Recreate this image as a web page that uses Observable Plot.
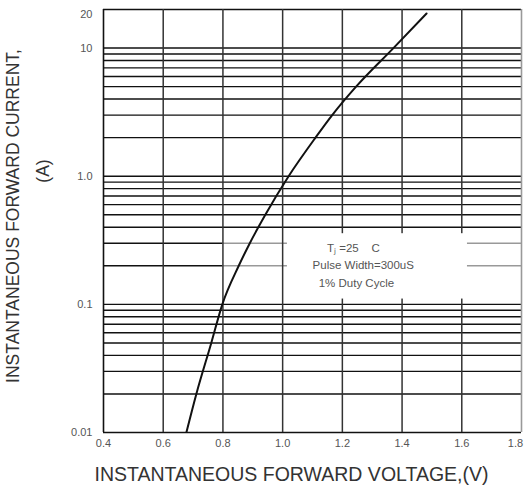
<!DOCTYPE html>
<html>
<head>
<meta charset="utf-8">
<script src="https://cdn.jsdelivr.net/npm/d3@7"></script>
<script src="https://cdn.jsdelivr.net/npm/@observablehq/plot@0.6"></script>
<style>
  html, body { margin: 0; padding: 0; background: #fff; }
  #chart svg { display: block; }
</style>
</head>
<body>
<div id="chart"></div>
<script>
// Forward voltage (V) and forward current (A)
const voltage = [0.678, 0.711, 0.761, 0.798, 0.853, 0.890, 0.942, 1.020, 1.110, 1.166, 1.246, 1.371, 1.482];
const current = [0.0101, 0.020, 0.050, 0.100, 0.200, 0.300, 0.500, 1.000, 2.000, 3.000, 5.000, 10.00, 18.60];

const xTicks = [0.4, 0.6, 0.8, 1.0, 1.2, 1.4, 1.6];
const xTickLabels = ["0.4", "0.6", "0.8", "1.0", "1.2", "1.4", "1.6"];
const xLastTick = [1.8];
const xLastLabel = ["1.8"];
const yTicks = [0.01, 0.1, 1, 10];
const yTickLabels = ["0.01", "0.1", "1.0", "10"];
const yTopTick = [20];
const yTopLabel = ["20"];
const xGrid = [0.6, 0.8, 1.0, 1.2, 1.4, 1.6];
const yGridFull = [0.01,0.02,0.03,0.04,0.05,0.06,0.07,0.08,0.09,
                   0.1,0.4,0.5,0.6,0.7,0.8,0.9,
                   1,2,3,4,5,6,7,8,9,10,20];
const yGridPartial = [0.2, 0.3];
const noteLines = ["Tⱼ =25    C", "Pulse Width=300uS", "1% Duty Cycle"];
const noteX = [1.237, 1.27, 1.247];
const noteY = [0.276, 0.2, 0.145];
const noteBox = [{x1: 1.016, x2: 1.619, y1: 0.11, y2: 0.356}];

const curve = voltage.map((v, i) => ({v, i: current[i]}));
const notes = noteLines.map((t, k) => ({t, x: noteX[k], y: noteY[k]}));
const yLabelRows = yTicks.map((d, k) => ({y: d, t: yTickLabels[k]}));
const yTopRows = yTopTick.map((d, k) => ({y: d, t: yTopLabel[k]}));
const xLabelRows = xTicks.map((d, k) => ({x: d, t: xTickLabels[k]}));
const xLastRows = xLastTick.map((d, k) => ({x: d, t: xLastLabel[k]}));

const font = "Liberation Sans, Arial, Helvetica, sans-serif";

const chart = Plot.plot({
  width: 524,
  height: 492,
  marginTop: 9,
  marginBottom: 60,
  marginLeft: 103,
  marginRight: 3,
  style: {fontFamily: font, background: "#fff"},
  x: {domain: [0.4, 1.8], axis: null},
  y: {type: "log", domain: [0.01, 20], axis: null},
  marks: [
    // horizontal grid
    Plot.ruleY(yGridFull, {stroke: "#111", strokeWidth: 1.4}),
    Plot.ruleY(yGridPartial, {x1: 0.4, x2: 0.8, stroke: "#111", strokeWidth: 1.4}),
    Plot.ruleY(yGridPartial, {x1: 0.8, x2: 1.8, stroke: "#999", strokeWidth: 1.4}),
    // vertical grid
    Plot.ruleX(xGrid, {stroke: "#333", strokeWidth: 1.5}),
    // frame sides
    Plot.ruleX([0.4], {stroke: "#111", strokeWidth: 1.6}),
    Plot.ruleX([1.8], {stroke: "#999", strokeWidth: 1.6}),
    // annotation box (white background)
    Plot.rect(noteBox, {x1: "x1", x2: "x2", y1: "y1", y2: "y2", fill: "#fff"}),
    Plot.text(notes, {x: "x", y: "y", text: "t", fontSize: 11.5, fill: "#555", textAnchor: "middle"}),
    // curve
    Plot.line(curve, {x: "v", y: "i", curve: "monotone-x", stroke: "#111", strokeWidth: 2}),
    // tick labels
    Plot.text(xLabelRows, {x: "x", text: "t", frameAnchor: "bottom", dy: 14, fontSize: 11, fill: "#555"}),
    Plot.text(xLastRows, {x: "x", text: "t", frameAnchor: "bottom", dy: 14, dx: -6, fontSize: 11, fill: "#555"}),
    Plot.text(yLabelRows, {y: "y", text: "t", frameAnchor: "left", dx: -11, textAnchor: "end",
      fontSize: 11, fill: "#555"}),
    Plot.text(yTopRows, {y: "y", text: "t", frameAnchor: "left", dx: -11, dy: 5, textAnchor: "end",
      fontSize: 11, fill: "#555"}),
    // axis titles
    Plot.text(["INSTANTANEOUS FORWARD VOLTAGE,(V)"], {frameAnchor: "bottom", dy: 48, dx: -21,
      fontSize: 19.5, fill: "#333", textAnchor: "middle"}),
    Plot.text(["INSTANTANEOUS FORWARD CURRENT,"], {frameAnchor: "left", dx: -90, dy: -5, rotate: -90,
      fontSize: 17.5, fill: "#333", textAnchor: "middle"}),
    Plot.text(["(A)"], {frameAnchor: "left", dx: -60, dy: -50, rotate: -90,
      fontSize: 17.5, fill: "#333", textAnchor: "middle"})
  ]
});
document.getElementById("chart").appendChild(chart);
</script>
</body>
</html>
